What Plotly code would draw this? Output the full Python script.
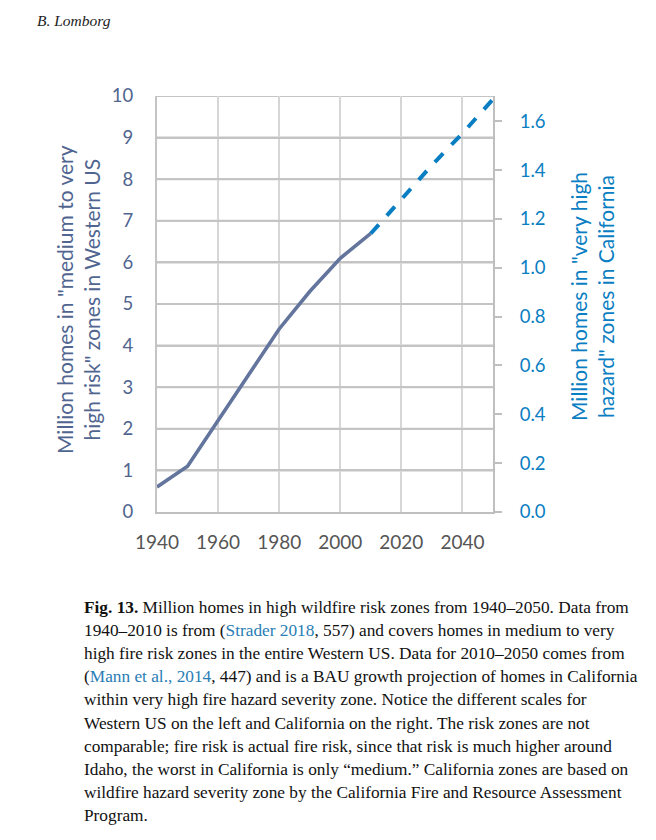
import plotly.graph_objects as go

# ---- data ----
years_west = [1940, 1950, 1960, 1970, 1980, 1990, 2000, 2010]
homes_west = [0.6, 1.1, 2.2, 3.3, 4.4, 5.3, 6.1, 6.7]   # million, Western US (left axis)
years_ca = [2010, 2020, 2030, 2040, 2050]
homes_ca = [1.14, 1.28, 1.42, 1.55, 1.69]                # million, California (right axis)
x_ticks = [1940, 1960, 1980, 2000, 2020, 2040]
left_ticks = list(range(0, 11))
right_ticks = [0.0, 0.2, 0.4, 0.6, 0.8, 1.0, 1.2, 1.4, 1.6]

caption_lines = [
    "<b>Fig. 13.</b> Million homes in high wildfire risk zones from 1940–2050. Data from",
    "1940–2010 is from (<span style='color:#2a7db5'>Strader 2018</span>, 557) and covers homes in medium to very",
    "high fire risk zones in the entire Western US. Data for 2010–2050 comes from",
    "(<span style='color:#2a7db5'>Mann et al., 2014</span>, 447) and is a BAU growth projection of homes in California",
    "within very high fire hazard severity zone. Notice the different scales for",
    "Western US on the left and California on the right. The risk zones are not",
    "comparable; fire risk is actual fire risk, since that risk is much higher around",
    "Idaho, the worst in California is only “medium.” California zones are based on",
    "wildfire hazard severity zone by the California Fire and Resource Assessment",
    "Program.",
]

OFF = 8  # page body margin
W, H = 656 - OFF, 840 - OFF
L, R, T, B = 157 - OFF, 493 - OFF, 96 - OFF, 512 - OFF

def px_x(px):
    return (px - OFF - L) / (R - L)

def px_y(py):
    return (B - (py - OFF)) / (B - T)

SLATE = "#50658f"
BLUE = "#0a7ec2"
GRID = "#d6d6d6"
HGRID = "#c4c4c4"
FONT = "Lato"

fig = go.Figure()
fig.add_trace(go.Scatter(x=years_west, y=homes_west, mode="lines",
                         line=dict(color="#63759c", width=3.6), yaxis="y",
                         showlegend=False, hoverinfo="skip"))
fig.add_trace(go.Scatter(x=years_ca, y=homes_ca, mode="lines",
                         line=dict(color=BLUE, width=4, dash="dash"), yaxis="y2",
                         showlegend=False, hoverinfo="skip"))

fig.update_layout(
    width=W, height=H, showlegend=False,
    margin=dict(l=L, r=W - R, t=T, b=H - B, autoexpand=False),
    paper_bgcolor="white", plot_bgcolor="white",
    xaxis=dict(range=[1940, 2050], tickvals=x_ticks, showgrid=True, gridcolor=GRID,
               gridwidth=2, zeroline=False, showline=True, linecolor="#bfbfbf", linewidth=2,
               mirror=False, ticks="", tickfont=dict(family=FONT, size=19, color="#555555"),
               ticklabelstandoff=12),
    yaxis=dict(range=[0, 10], tickvals=left_ticks, showgrid=True,
               gridcolor=HGRID, gridwidth=2, zeroline=False, showline=True,
               linecolor="#c4c4c4", linewidth=2,
               tickfont=dict(family=FONT, size=18.5, color=SLATE),
               ticklabelstandoff=18),
    yaxis2=dict(range=[0, 1.703], tickvals=right_ticks, tickformat=".1f", overlaying="y",
                side="right", showgrid=False, zeroline=False, showline=True,
                linecolor="#bfbfbf", linewidth=2, ticks="outside", ticklen=7,
                tickcolor="#bfbfbf", tickwidth=1.5,
                tickfont=dict(family=FONT, size=18.5, color=BLUE), ticklabelstandoff=14),
)

# horizontal gridlines at the left-axis tick values (positioned by the y scale)
for v in left_ticks[1:]:
    fig.add_shape(type="line", xref="paper", yref="y", x0=0, x1=1, y0=v, y1=v,
                  line=dict(color=HGRID, width=2), layer="below")

ann = []
ann.append(dict(text="<i>B. Lomborg</i>", xref="paper", yref="paper",
                x=px_x(35), y=px_y(20), xanchor="left", yanchor="middle", showarrow=False,
                font=dict(family="Liberation Serif", size=15.5, color="#222222")))
ann.append(dict(text='Million homes in "medium to very<br>high risk" zones in Western US',
                xref="paper", yref="paper", x=px_x(78), y=px_y(300), textangle=-90,
                xanchor="center", yanchor="middle", showarrow=False,
                font=dict(family=FONT, size=21, color=SLATE)))
ann.append(dict(text='Million homes in "very high<br>hazard" zones in California',
                xref="paper", yref="paper", x=px_x(592), y=px_y(297), textangle=-90,
                xanchor="center", yanchor="middle", showarrow=False,
                font=dict(family=FONT, size=21, color=BLUE)))
for i, line in enumerate(caption_lines):
    ann.append(dict(text=line, xref="paper", yref="paper", x=px_x(82),
                    y=px_y(607 + i * 23.2), xanchor="left", yanchor="middle",
                    showarrow=False,
                    font=dict(family="Liberation Serif", size=17.3, color="#111111")))
fig.update_layout(annotations=ann)

fig.write_html("out.html")
